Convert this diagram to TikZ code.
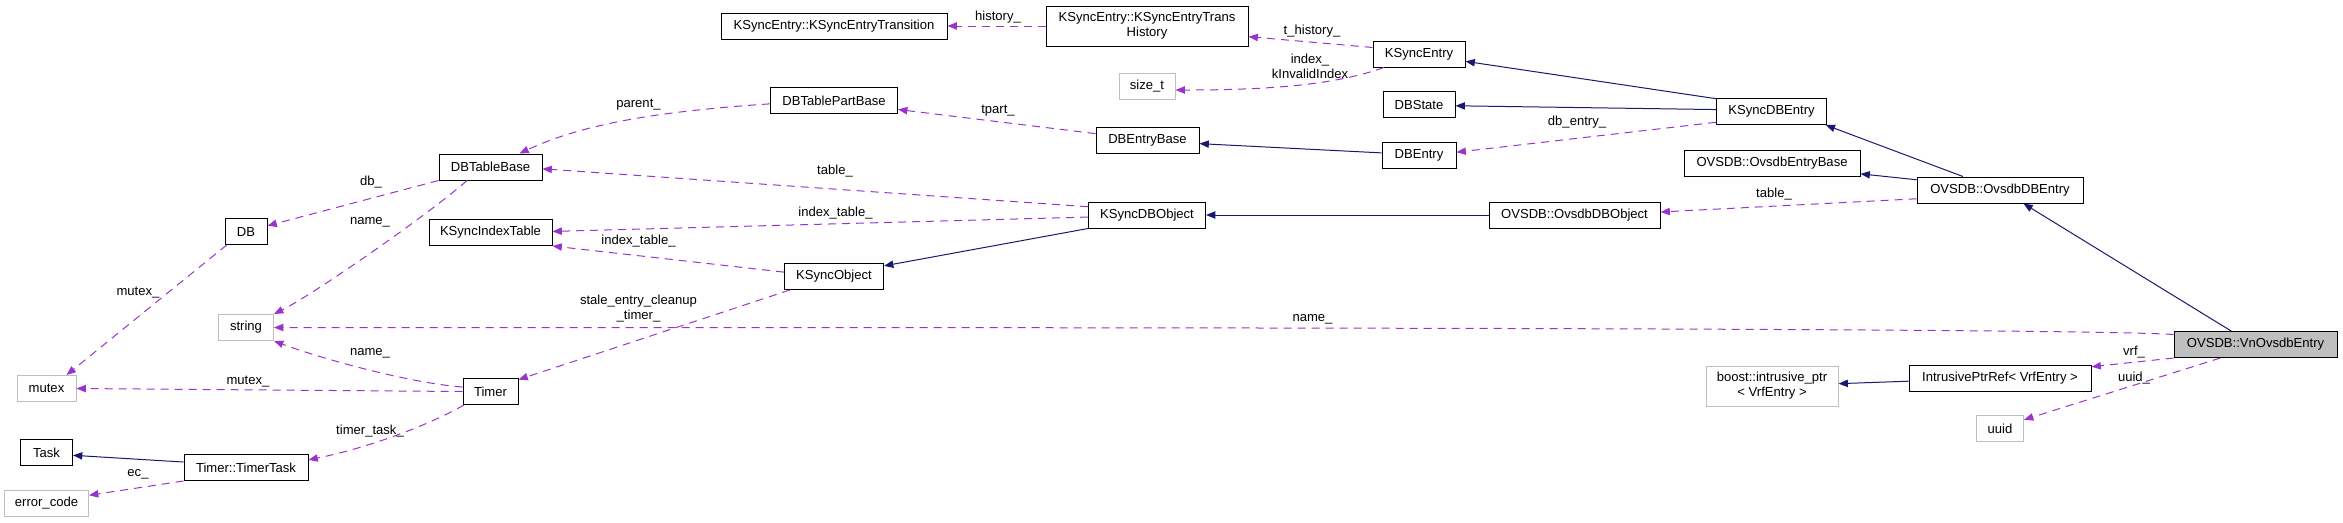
\documentclass[tikz,border=0pt]{standalone}
\usepackage{fontspec}
\setmainfont{Liberation Sans}
\usetikzlibrary{arrows.meta}
\definecolor{memcol}{HTML}{9A32CD}
\definecolor{inhcol}{HTML}{191970}
\definecolor{extcol}{HTML}{BFBFBF}

\begin{document}
\begin{tikzpicture}[
    x=0.75pt, y=-0.75pt,
    font=\fontsize{9.8}{11.25}\selectfont,
    cls/.style={draw=black, line width=0.75pt, inner sep=0pt, align=center,
        minimum height=19.5pt, minimum width=#1*0.75pt},
    ext/.style={cls=#1, draw=extcol},
    lbl/.style={inner sep=0pt, align=center},
    inh/.style={-{Triangle[length=7pt,width=5.5pt]}, inhcol, line width=0.75pt},
    mem/.style={-{Triangle[length=7pt,width=5.5pt]}, memcol, line width=0.75pt,
        dash pattern=on 6pt off 4.5pt}
]
\useasboundingbox (0,0) rectangle (2343,522);
% --- documented classes ---
\foreach \nm/\x/\y/\w/\txt in {
    trans/834/26/226/KSyncEntry::KSyncEntryTransition,
    ksentry/1419/54/92/KSyncEntry,
    tpbase/834/100.5/127/DBTablePartBase,
    dbstate/1419/104.5/72/DBState,
    ksdbentry/1771.5/111.5/110/KSyncDBEntry,
    dbebase/1147.5/140/103/DBEntryBase,
    dbentry/1419/155.5/74/DBEntry,
    ovsbase/1772/163/176/OVSDB::OvsdbEntryBase,
    tbase/490.5/167/103/DBTableBase,
    ovsentry/2000/190/166/OVSDB::OvsdbDBEntry,
    ksdbobj/1147/215/117/KSyncDBObject,
    ovsobj/1574.5/215/171/OVSDB::OvsdbDBObject,
    db/246/231.5/42/DB,
    ksidx/490.5/232.5/123/KSyncIndexTable,
    ksobj/834/276.5/99/KSyncObject,
    iptrref/2000/378/182/IntrusivePtrRef< VrfEntry >,
    timer/490.5/391.5/55/Timer,
    task/46.5/452.5/52/Task,
    ttask/246/467.5/124/Timer::TimerTask} {
    \node[cls=\w] (\nm) at (\x,\y) {\txt};
}
\node[cls=202, minimum height=30pt] (hist) at (1147,26) {KSyncEntry::KSyncEntryTrans\\History};
\node[cls=163, fill=extcol] (vnentry) at (2255.5,344.5) {OVSDB::VnOvsdbEntry};
% --- undocumented types (grey frame) ---
\foreach \nm/\x/\y/\w/\txt in {
    sizet/1147/86/56/size\_t,
    str/246/327.5/55/string,
    mutex/46.5/388.5/59/mutex,
    uuid/2000/428.5/47/uuid,
    errc/46.5/503.5/84/error\_code} {
    \node[ext=\w] (\nm) at (\x,\y) {\txt};
}
\node[ext=132, minimum height=30pt] (bptr) at (1772,386) {boost::intrusive\_ptr\\< VrfEntry >};
% --- inheritance ---
\draw[inh] (ksdbentry.167) -- (ksentry.351);
\draw[inh] (ksdbentry.178) -- (dbstate.358);
\draw[inh] (dbentry.176) -- (dbebase.356);
\draw[inh] (ksdbobj.south west) -- (ksobj.12);
\draw[inh] (ovsobj) -- (ksdbobj);
\draw[inh] (ovsentry.160) -- (ksdbentry.346);
\draw[inh] (ovsentry.173) -- (ovsbase.353);
\draw[inh] (vnentry.151) -- (ovsentry.330);
\draw[inh] (iptrref.182) -- (bptr.2);
\draw[inh] (ttask.175) -- (task.354);
% --- members ---
\draw[mem] (hist) -- (trans);
\draw[mem] (ksentry.172) -- (hist.354);
\draw[mem] (ksentry.201) .. controls +(-50,18) and +(90,0) .. (sizet.352);
\draw[mem] (ksdbentry.191) -- (dbentry.5);
\draw[mem] (dbebase.173) -- (tpbase.352);
\draw[mem] (tpbase.183) .. controls +(-120,8) and +(60,-28) .. (tbase.25);
\draw[mem] (ksdbobj.172) -- (tbase.358);
\draw[mem] (ksdbobj.182) -- (ksidx.1);
\draw[mem] (ksobj.175) -- (ksidx.south east);
\draw[mem] (ovsentry.186) -- (ovsobj.2);
\draw[mem] (vnentry.173) .. controls +(-120,-7) and +(700,0) .. (str.east);
\draw[mem] (vnentry.south west) -- (iptrref.7);
\draw[mem] (vnentry.201) -- (uuid.20);
\draw[mem] (tbase.south west) -- (db.15);
\draw[mem] (tbase.210) .. controls +(-40,35) and +(40,-20) .. (str.north east);
\draw[mem] (db.215) -- (mutex.34);
\draw[mem] (timer.171) .. controls +(-60,-5) and +(40,15) .. (str.south east);
\draw[mem] (timer.west) -- (mutex.east);
\draw[mem] (ksobj.197) -- (timer.23);
\draw[mem] (timer.207) .. controls +(-35,20) and +(60,-12) .. (ttask.7);
\draw[mem] (ttask.south west) -- (errc.11);
% --- member labels ---
\foreach \nm/\x/\y/\txt in {
    lhist/998/17/history\_, lthist/1312/31/t\_history\_,
    ldbe/1577/122/db\_entry\_, ltpart/998/111/tpart\_,
    lparent/638.5/105/parent\_, ltable/835/171/table\_,
    lidxt/835.5/213/index\_table\_, lidxo/638.5/241/index\_table\_,
    lotable/1774/194/table\_, lname/1312.5/319/name\_,
    lvrf/2134/352/vrf\_, luuid/2134/378/uuid\_,
    ldb/371/182/db\_, ltname/370/222/name\_,
    lmutex/138/293/mutex\_, ltmname/370/353/name\_,
    ltmutex/248/382/mutex\_, ltask/370/431/timer\_task\_,
    lec/138/474/ec\_} {
    \node[lbl] (\nm) at (\x,\y) {\txt};
}
\node[lbl] (lidx) at (1310,66) {index\_\\kInvalidIndex};
\node[lbl] (lstale) at (638.5,309) {stale\_entry\_cleanup\\\_timer\_};
\end{tikzpicture}
\end{document}
